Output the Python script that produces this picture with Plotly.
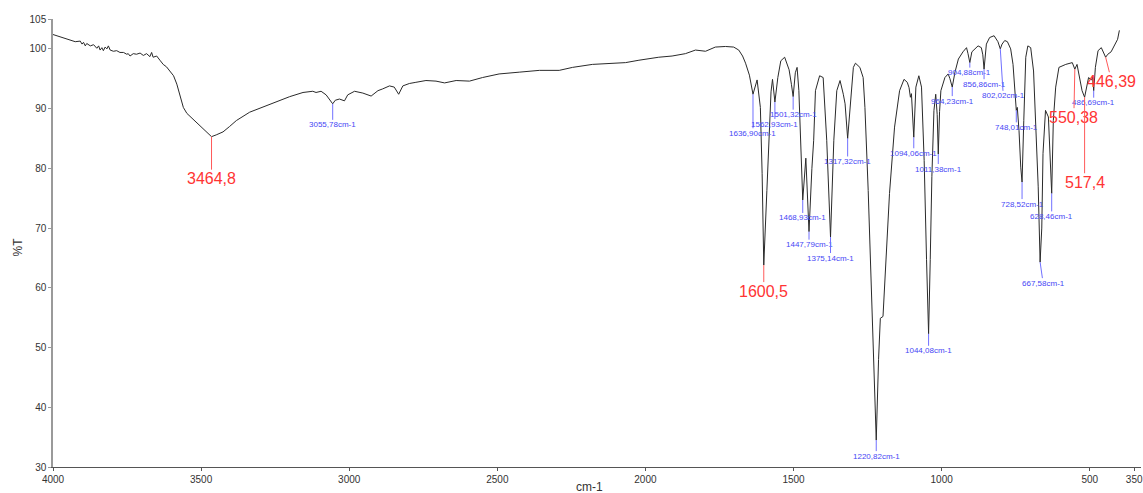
import numpy as np
import plotly.graph_objects as go

# ---------------- data ----------------
wavenumber = [
    4000, 3975, 3942, 3925, 3908, 3902, 3897, 3891, 3886, 3874, 3863, 3852, 3846, 3841, 3835, 3830,
    3824, 3818, 3813, 3807, 3796, 3785, 3774, 3762, 3751, 3746, 3740, 3729, 3718, 3706, 3695, 3684,
    3673, 3667, 3662, 3650, 3639, 3628, 3617, 3605, 3593, 3582, 3571, 3560, 3548, 3537, 3515, 3493,
    3471, 3464.8, 3449, 3426, 3404, 3381, 3336, 3291, 3246, 3201, 3156, 3123, 3112, 3095, 3078, 3062,
    3055.78, 3047, 3033, 3016, 3005, 2982, 2954, 2926, 2903, 2887, 2864, 2848, 2833, 2819, 2797, 2775,
    2741, 2707, 2678, 2639, 2594, 2550, 2494, 2426, 2358, 2291, 2246, 2179, 2112, 2067, 2022, 1955,
    1910, 1865, 1831, 1797, 1764, 1730, 1702, 1685, 1672, 1662, 1649, 1636.9, 1623, 1612, 1606,
    1600.5, 1590, 1582, 1576, 1571, 1562.93, 1553, 1543, 1530, 1515, 1507, 1501.32, 1494, 1488, 1482,
    1476, 1468.93, 1458.5, 1447.79, 1438, 1432, 1426, 1412, 1400, 1388, 1375.14, 1364, 1354, 1343,
    1332, 1326, 1317.32, 1309, 1298, 1291, 1276, 1265, 1259, 1248, 1239.4, 1237, 1226, 1220.82,
    1213, 1207, 1198, 1187, 1176, 1159, 1142, 1127, 1116, 1110, 1105.5, 1102, 1094.06, 1087, 1077,
    1068, 1059, 1051, 1044.08, 1038.5, 1033, 1026, 1020, 1015, 1011.38, 1007, 1002.6, 989, 978, 972,
    964.23, 955, 943.5, 928, 916, 911, 904.88, 898, 888, 877, 866, 861, 856.86, 852, 849, 838, 823,
    810, 802.02, 796, 787, 778, 767, 759, 753.6, 748.01, 744.6, 738.8, 733, 728.52, 722.7, 716, 709,
    699.4, 689.7, 682, 674, 667.58, 662, 657.8, 649.4, 639.6, 632.6, 628.46, 623, 615, 604, 581, 559,
    550.38, 543, 535, 526, 517.4, 504, 495, 490, 486.69, 481, 472, 461, 446.39, 439, 428, 417, 406, 400,
]
transmittance = [
    102.4, 102.0, 101.6, 101.2, 101.3, 100.8, 101.1, 100.5, 100.9, 100.5, 100.7, 100.1, 100.5, 99.8, 100.2, 99.7,
    100.3, 100.0, 100.5, 99.8, 99.6, 99.7, 99.4, 99.4, 99.1, 99.2, 98.8, 99.2, 99.1, 99.3, 98.9, 99.2,
    98.7, 99.4, 98.6, 98.8, 98.1, 97.4, 97.0, 96.3, 95.5, 94.1, 91.9, 90.2, 89.2, 88.7, 87.7, 86.6,
    85.6, 85.3, 85.6, 86.1, 87.0, 88.0, 89.4, 90.3, 91.2, 92.0, 92.7, 92.9, 92.7, 92.9, 92.3, 91.3,
    90.8, 91.4, 91.6, 91.3, 92.3, 92.9, 92.6, 92.1, 93.0, 93.3, 93.8, 93.6, 92.4, 93.8, 94.2, 94.4,
    94.7, 94.6, 94.3, 94.7, 94.6, 95.2, 95.8, 96.1, 96.4, 96.4, 96.9, 97.4, 97.6, 97.7, 98.1, 98.6,
    98.8, 99.2, 99.8, 99.6, 100.3, 100.4, 100.3, 99.8, 98.8, 97.6, 95.6, 92.4, 94.8, 90.2, 79.1,
    63.8, 76.3, 87.4, 92.8, 94.9, 91.1, 95.2, 98.0, 98.6, 96.5, 94.0, 92.0, 96.0, 96.9, 93.0,
    84.7, 74.7, 81.7, 69.4, 80.0, 84.7, 93.0, 95.5, 95.2, 84.7, 68.5, 84.7, 93.0, 94.7,
    92.4, 90.8, 85.0, 90.2, 96.9, 97.6, 96.9, 95.2, 90.2, 76.3, 63.5, 59.7, 42.4, 34.5,
    48.0, 54.9, 55.2, 64.7, 75.8, 86.9, 93.0, 94.9, 94.4, 93.5, 91.9, 92.5, 85.2, 93.6, 95.5,
    93.6, 81.3, 64.7, 52.3, 64.7, 78.6, 89.7, 92.4, 89.0, 82.4, 89.5, 93.0, 95.2, 95.8, 95.0,
    93.6, 96.1, 98.3, 99.5, 100.2, 99.2, 97.7, 99.5, 99.9, 100.5, 100.2, 99.0, 96.6, 99.5, 100.8, 101.9, 102.2,
    101.2, 100.0, 100.8, 101.4, 101.2, 100.0, 97.4, 93.6, 89.7, 90.2, 86.3, 80.2, 77.7, 88.0, 98.6, 100.5,
    100.2, 96.3, 88.0, 76.9, 64.3, 70.0, 82.5, 89.7, 88.6, 80.0, 75.8, 88.0, 93.6, 96.9, 97.4, 97.7,
    96.6, 97.4, 95.5, 93.0, 91.9, 95.2, 94.8, 95.3, 93.0, 96.9, 99.7, 100.2, 98.6, 99.1, 99.5, 100.5, 101.6, 103.1,
]

# blue peak labels (wavenumber, pixel offset of text below the curve)
blue_wn = [3055.78, 1636.90, 1562.93, 1501.32, 1468.93, 1447.79, 1375.14, 1317.32, 1220.82,
           1094.06, 1044.08, 1011.38, 964.23, 904.88, 856.86, 802.02, 748.01, 728.52, 667.58,
           628.46, 486.69]
blue_dy = [21, 39, 22, 18, 18, 13, 21, 23, 16, 16, 17, 15, 14, 10, 15, 47, 17, 22, 21, 23, 12]
blue_dx = [0, 0, 0, 0, 0, 0, 0, 0, 0, 0, 0, 0, 0, 0, 0, 3, 0, 0, 3, 0, 0]

# red peak labels
red_wn = [3464.8, 1600.5, 550.38, 517.4, 446.39]
red_text = ["3464,8", "1600,5", "550,38", "517,4", "446,39"]
red_dx = [0, 0, -1, 0, 6]
red_dy = [42, 26, 48, 85, 24]

x_ticks = [4000, 3500, 3000, 2500, 2000, 1500, 1000, 500, 350]
y_ticks = [30, 40, 50, 60, 70, 80, 90, 100, 105]

# ---------------- figure ----------------
BLUE = "#4646f5"
RED = "#ff3434"

fig = go.Figure()
fig.add_trace(go.Scatter(x=wavenumber, y=transmittance, mode="lines",
                         line=dict(color="#2a2a2a", width=1), hoverinfo="skip", showlegend=False))

wn_sorted = np.array(wavenumber[::-1], dtype=float)
t_sorted = np.array(transmittance[::-1], dtype=float)

annotations = []
for wn, dy, dx in zip(blue_wn, blue_dy, blue_dx):
    ty = float(np.interp(wn, wn_sorted, t_sorted))
    label = f"{wn:.2f}".replace(".", ",") + "cm-1"
    annotations.append(dict(x=wn, y=ty, xref="x", yref="y", text=label, showarrow=True,
                            arrowhead=0, arrowwidth=1, arrowcolor="#7070ff", ax=dx, ay=dy,
                            standoff=0, borderpad=0,
                            font=dict(family="Liberation Sans, Arial", size=8, color=BLUE)))
for wn, txt, dx, dy in zip(red_wn, red_text, red_dx, red_dy):
    ty = float(np.interp(wn, wn_sorted, t_sorted))
    annotations.append(dict(x=wn, y=ty, xref="x", yref="y", text=txt, showarrow=True,
                            arrowhead=0, arrowwidth=1, arrowcolor="#ff5a5a", ax=dx, ay=dy,
                            standoff=0, borderpad=0,
                            font=dict(family="Liberation Sans, Arial", size=16, color=RED)))

# axis titles
annotations.append(dict(text="cm-1", xref="paper", yref="paper", x=0.4927, y=0, yshift=-20,
                        showarrow=False, xanchor="center", yanchor="middle",
                        font=dict(family="Liberation Sans, Arial", size=12, color="#333333")))
annotations.append(dict(text="%T", xref="paper", yref="paper", x=0, xshift=-35, y=0.49,
                        showarrow=False, textangle=-90, xanchor="center", yanchor="middle",
                        font=dict(family="Liberation Sans, Arial", size=12, color="#333333")))

fig.update_layout(
    width=1143, height=493,
    margin=dict(l=53, r=0, t=19, b=26),
    paper_bgcolor="white", plot_bgcolor="white",
    annotations=annotations,
    showlegend=False,
    xaxis=dict(range=[4000, 327], tickvals=x_ticks, ticktext=[str(v) for v in x_ticks],
               showgrid=False, zeroline=False, showline=True, linecolor="#555555", linewidth=1,
               ticks="outside", ticklen=3, tickcolor="#555555", ticklabeloverflow="allow",
               tickfont=dict(family="Liberation Sans, Arial", size=10, color="#333333")),
    yaxis=dict(range=[30, 105], tickvals=y_ticks, ticktext=[str(v) for v in y_ticks],
               showgrid=False, zeroline=False, showline=True, linecolor="#9a9a9a", linewidth=1.5,
               ticks="outside", ticklen=3, tickcolor="#9a9a9a",
               tickfont=dict(family="Liberation Sans, Arial", size=10, color="#333333")),
    font=dict(family="Liberation Sans, Arial"),
)

fig.write_html(
    "out.html",
    config={"displayModeBar": False},
    post_script="document.body.style.margin='0';document.body.style.overflow='hidden';",
)
